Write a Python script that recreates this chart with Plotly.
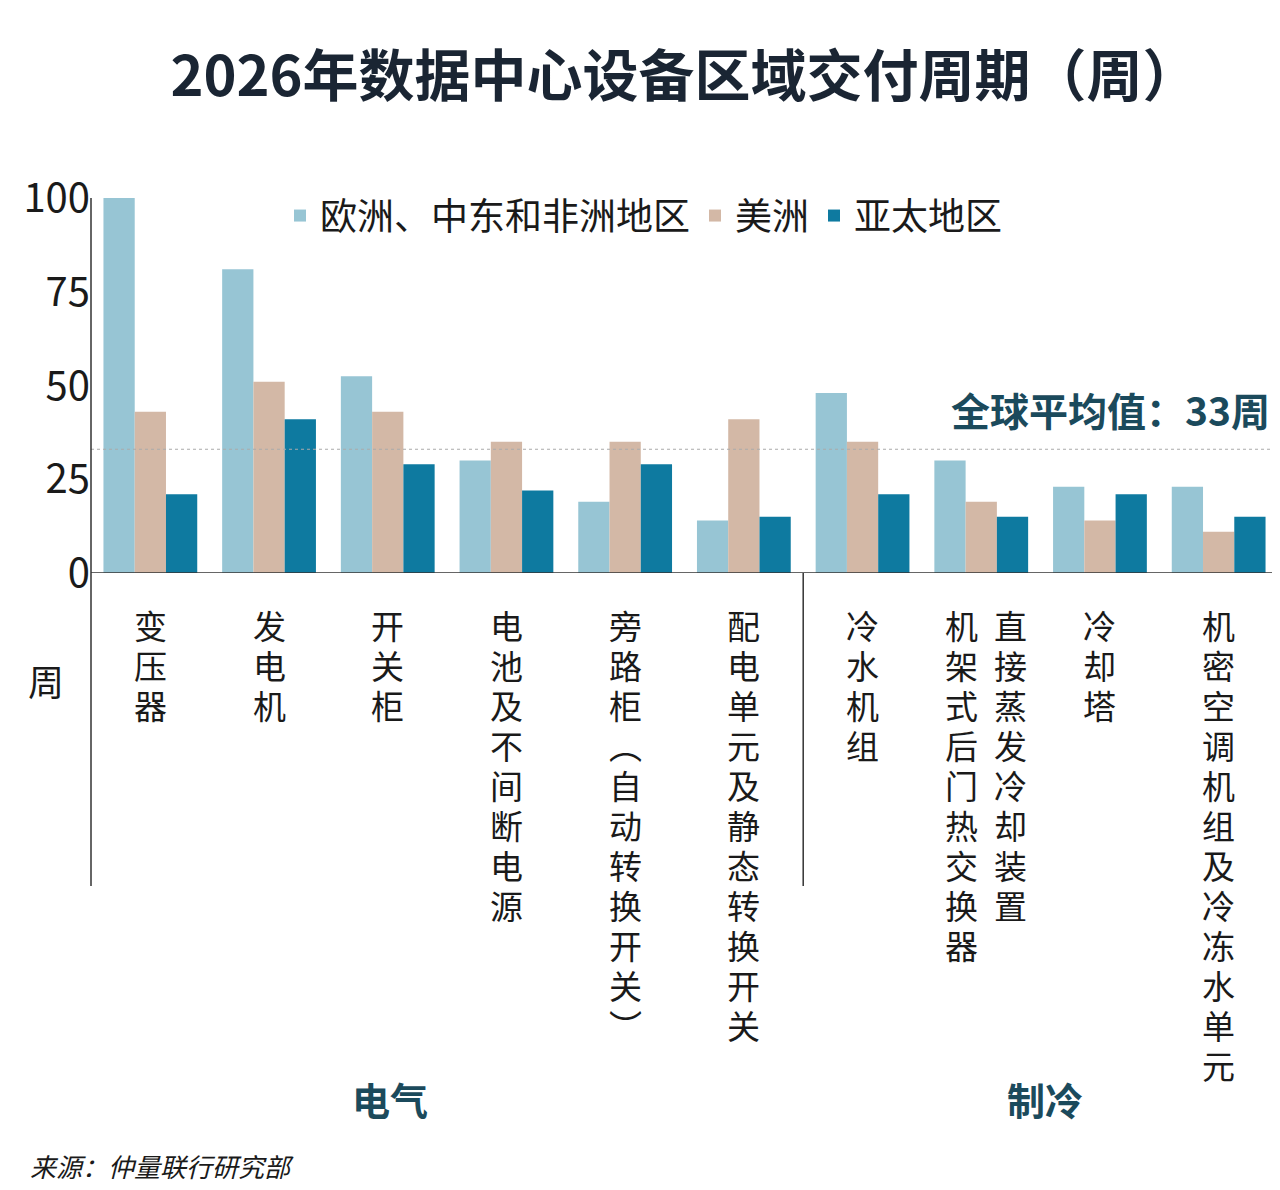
import plotly.graph_objects as go

categories = ["变压器", "发电机", "开关柜", "电池及不间断电源", "旁路柜︵自动转换开关︶",
              "配电单元及静态转换开关", "冷水机组", "直接蒸发冷却装置|机架式后门热交换器",
              "冷却塔", "机密空调机组及冷冻水单元"]
emea = [100, 81, 52.5, 30, 19, 14, 48, 30, 23, 23]
americas = [43, 51, 43, 35, 35, 41, 35, 19, 14, 11]
apac = [21, 41, 29, 22, 29, 15, 21, 15, 21, 15]
series_names = ["欧洲、中东和非洲地区", "美洲", "亚太地区"]
colors = ["#97c5d4", "#d3b8a6", "#0e7aa0"]
global_avg = 33
groups = [("电气", 2.02), ("制冷", 7.54)]

F = "Noto Sans CJK SC"
W, H = 1280, 1190
L, R, T, B = 83, 10, 190, 625
PW, PH = W - L - R, H - T - B
x = list(range(len(categories)))

fig = go.Figure()
for name, vals, c in zip(series_names, [emea, americas, apac], colors):
    fig.add_trace(go.Bar(x=x, y=vals, name=name, marker_color=c, marker_line_width=0))

def py(p):  # pixel y -> paper
    return (H - B - p) / PH

def px(p):  # pixel x -> paper
    return (p - L) / PW

ann = []
for i, cat in enumerate(categories):
    cols = cat.split("|")
    offs = [0] if len(cols) == 1 else [0.25, -0.17]
    for col, off in zip(cols, offs):
        for k, ch in enumerate(col):
            ann.append(dict(x=i + off, xref="x", y=py(617 + 40 * k), yref="paper", text=ch,
                            showarrow=False, font=dict(size=33, color="#1a1a1a", family=F),
                            xanchor="center", yanchor="middle"))
for g, gx in groups:
    ann.append(dict(x=gx, xref="x", y=py(1090), yref="paper", text="<b>%s</b>" % g, showarrow=False,
                    yanchor="middle", font=dict(size=38, color="#1b4a5c", family=F)))
ann.append(dict(x=px(1264), xref="paper", y=global_avg, yref="y", yanchor="bottom", xanchor="right", yshift=10,
                text="<b>全球平均值：%d周</b>" % global_avg, showarrow=False,
                font=dict(size=39, color="#1b4a5c", family=F)))
ann.append(dict(x=px(38), xref="paper", y=py(672), yref="paper", text="周", showarrow=False,
                xanchor="center", yanchor="middle", font=dict(size=36, color="#1a1a1a", family=F)))
ann.append(dict(x=px(20), xref="paper", y=py(1157), yref="paper", xanchor="left", yanchor="middle",
                text="<i>来源：仲量联行研究部</i>",
                showarrow=False, font=dict(size=26, color="#1a1a1a", family=F)))

shapes = [
    dict(type="line", xref="paper", yref="y", x0=0, x1=1, y0=global_avg, y1=global_avg,
         line=dict(color="#aaaaaa", width=1, dash="dot")),
    dict(type="line", xref="paper", yref="y", x0=0, x1=1, y0=0, y1=0, line=dict(color="#333", width=1.5)),
    dict(type="line", xref="paper", yref="paper", x0=0, x1=0, y0=py(878), y1=1, line=dict(color="#333", width=1.5)),
    dict(type="line", xref="x", yref="paper", x0=5.5, x1=5.5, y0=py(878), y1=0, line=dict(color="#333", width=1.5)),
]

fig.update_layout(
    width=W, height=H, margin=dict(l=L, r=R, t=T, b=B, autoexpand=False),
    plot_bgcolor="white", paper_bgcolor="white",
    font=dict(family=F, color="#1a1a1a"),
    title=dict(text="<b>2026年数据中心设备区域交付周期（周）</b>", x=0.5, xanchor="center", xref="paper",
               y=1 - 68 / H, yanchor="middle", font=dict(size=56, color="#1a2533", family=F)),
    barmode="group", bargap=0.21, bargroupgap=0,
    xaxis=dict(range=[-0.5, 9.5], showticklabels=False, showgrid=False, zeroline=False, showline=False),
    yaxis=dict(range=[0, 100], tickvals=[0, 25, 50, 75, 100], showgrid=False, zeroline=False,
               showline=False, tickfont=dict(size=40, color="#1a1a1a"), ticks="", ticklen=0),
    legend=dict(orientation="h", x=px(272), xanchor="left", y=py(208), yanchor="middle",
                font=dict(size=37, color="#1a1a1a"), bgcolor="rgba(0,0,0,0)"),
    annotations=ann, shapes=shapes,
)
fig.write_html("out.html")
